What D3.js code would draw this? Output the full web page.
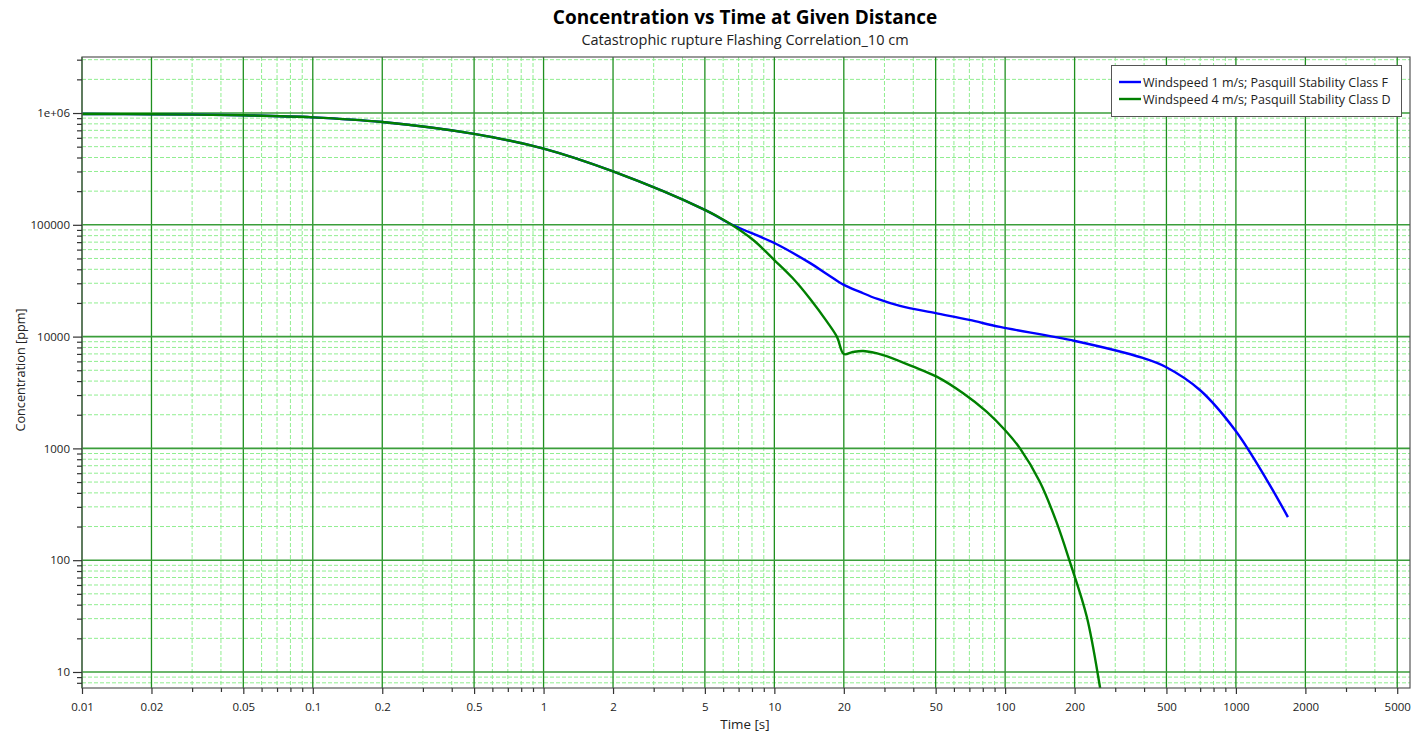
<!DOCTYPE html>
<html>
<head>
<meta charset="utf-8">
<script src="https://cdn.jsdelivr.net/npm/d3@7"></script>
<style>
  html, body { margin: 0; padding: 0; background: #ffffff; }
  svg { display: block; font-family: "Open Sans", "Noto Sans", sans-serif; }
</style>
</head>
<body>
<svg id="chart" width="1421" height="736"></svg>
<script>
// Time [s] and concentration [ppm] samples for each weather case
const timeF = [0.01, 0.02, 0.05, 0.1, 0.2, 0.5, 1, 2, 5, 6.6, 10, 14.3, 17, 20, 23.5, 28, 35, 50, 70, 95, 201, 395, 497, 698, 991, 1362, 1680];
const concF = [980000, 975000, 955000, 915000, 830000, 650000, 480000, 300000, 136000, 99600, 68700, 45400, 36000, 29000, 25100, 21700, 18800, 16200, 14100, 12200, 9140, 6440, 5350, 3330, 1460, 521, 243];

const timeD = [0.01, 0.02, 0.05, 0.1, 0.2, 0.5, 1, 2, 5, 6.2, 8.1, 10, 12, 14.3, 16.9, 18.7, 20, 21.9, 24.3, 29.6, 40, 50.5, 65.8, 83.1, 99.8, 116, 141.5, 167, 191, 226, 258, 270];
const concD = [980000, 975000, 955000, 915000, 830000, 650000, 480000, 300000, 136000, 107000, 73100, 48400, 33400, 21700, 13600, 9900, 6980, 7280, 7430, 6840, 5380, 4380, 3110, 2130, 1460, 1000, 500, 219, 96, 31, 7.2, 4];

const seriesNames = [
  "Windspeed 1 m/s; Pasquill Stability Class F",
  "Windspeed 4 m/s; Pasquill Stability Class D"
];
const seriesColors = ["#0000ff", "#008000"];

const xTickLabels = [0.01, 0.02, 0.05, 0.1, 0.2, 0.5, 1, 2, 5, 10, 20, 50, 100, 200, 500, 1000, 2000, 5000];
const yTickLabels = ["1e+06", "100000", "10000", "1000", "100", "10"];
const yTickValues = [1e6, 1e5, 1e4, 1e3, 100, 10];

const titleText = "Concentration vs Time at Given Distance";
const subtitleText = "Catastrophic rupture Flashing Correlation_10 cm";
const xLabel = "Time [s]";
const yLabel = "Concentration [ppm]";

const svg = d3.select("#chart");
const plotLeft = 82, plotRight = 1410, plotTop = 57, plotBottom = 688;

const x = d3.scaleLog().domain([0.01, 5680]).range([plotLeft, plotRight]);
const y = d3.scaleLog().domain([7.19, 3.17e6]).range([plotBottom, plotTop]);

// minor values: every integer multiple of each decade within the domain
function minorValues(scale, mults) {
  const [d0, d1] = scale.domain();
  const out = [];
  for (let e = Math.floor(Math.log10(d0)); e <= Math.ceil(Math.log10(d1)); e++) {
    for (const m of mults) {
      const v = m * Math.pow(10, e);
      if (v >= d0 * 0.9999 && v <= d1 * 1.0001) out.push(v);
    }
  }
  return out;
}
const xMinor = minorValues(x, [3, 4, 6, 7, 8, 9]);
const yMinor = minorValues(y, [2, 3, 4, 5, 6, 7, 8, 9]);

const grid = svg.append("g");
// dashed light grid
grid.selectAll("line.xm").data(xMinor).enter().append("line")
  .attr("x1", d => x(d)).attr("x2", d => x(d)).attr("y1", plotTop).attr("y2", plotBottom)
  .attr("stroke", "#90ee90").attr("stroke-width", 1).attr("stroke-dasharray", "4,2");
grid.selectAll("line.ym").data(yMinor).enter().append("line")
  .attr("y1", d => y(d)).attr("y2", d => y(d)).attr("x1", plotLeft).attr("x2", plotRight)
  .attr("stroke", "#90ee90").attr("stroke-width", 1).attr("stroke-dasharray", "4,2");
// solid major grid
grid.selectAll("line.xM").data(xTickLabels).enter().append("line")
  .attr("x1", d => x(d)).attr("x2", d => x(d)).attr("y1", plotTop).attr("y2", plotBottom)
  .attr("stroke", "#1f8f1f").attr("stroke-width", 1.3);
grid.selectAll("line.yM").data(yTickValues).enter().append("line")
  .attr("y1", d => y(d)).attr("y2", d => y(d)).attr("x1", plotLeft).attr("x2", plotRight)
  .attr("stroke", "#3a9e3a").attr("stroke-width", 1.6);

// series
svg.append("clipPath").attr("id", "plotclip")
  .append("rect").attr("x", plotLeft).attr("y", plotTop)
  .attr("width", plotRight - plotLeft).attr("height", plotBottom - plotTop);
const line = d3.line().x(d => x(d[0])).y(d => y(d[1])).curve(d3.curveCatmullRom.alpha(0.5));
const series = [
  d3.zip(timeF, concF),
  d3.zip(timeD, concD)
];
const plot = svg.append("g").attr("clip-path", "url(#plotclip)");
// class D drawn after F so it sits on top in the shared early segment
[0, 1].forEach(i => {
  plot.append("path").datum(series[i])
    .attr("d", line).attr("fill", "none")
    .attr("stroke", seriesColors[i]).attr("stroke-width", 2.4)
    .attr("stroke-linejoin", "round");
});

// frame
svg.append("rect").attr("x", plotLeft).attr("y", plotTop)
  .attr("width", plotRight - plotLeft).attr("height", plotBottom - plotTop)
  .attr("fill", "none").attr("stroke", "#555").attr("stroke-width", 1.2);

// axes
const fmtX = d => String(d);
const xAxis = d3.axisBottom(x).tickValues(xTickLabels).tickFormat(fmtX).tickSize(6).tickPadding(9);
const gx = svg.append("g").attr("transform", `translate(0,${plotBottom})`).call(xAxis);
const xAxisMinor = d3.axisBottom(x).tickValues(xMinor).tickFormat("").tickSize(4);
const gxm = svg.append("g").attr("transform", `translate(0,${plotBottom})`).call(xAxisMinor);

const yAxis = d3.axisLeft(y).tickValues(yTickValues).tickFormat((d, i) => yTickLabels[i]).tickSize(9).tickPadding(3);
const gy = svg.append("g").attr("transform", `translate(${plotLeft},0)`).call(yAxis);
const yAxisMinor = d3.axisLeft(y).tickValues(yMinor).tickFormat("").tickSize(5);
const gym = svg.append("g").attr("transform", `translate(${plotLeft},0)`).call(yAxisMinor);

[gx, gxm, gy, gym].forEach(g => {
  g.select(".domain").remove();
  g.selectAll(".tick line").attr("stroke", "#333").attr("stroke-width", 1.2);
  g.selectAll("text").attr("fill", "#222").style("font-size", "11.5px")
    .style("font-family", "'Open Sans', 'Noto Sans', sans-serif");
});

// titles
svg.append("text").attr("x", 745).attr("y", 24).attr("text-anchor", "middle")
  .style("font-size", "19px").style("font-weight", "bold").attr("fill", "#000").text(titleText);
svg.append("text").attr("x", 745).attr("y", 45).attr("text-anchor", "middle")
  .style("font-size", "14.5px").attr("fill", "#222").text(subtitleText);
svg.append("text").attr("x", 745).attr("y", 729).attr("text-anchor", "middle")
  .style("font-size", "13.4px").attr("fill", "#222").text(xLabel);
svg.append("text").attr("transform", "translate(25,370) rotate(-90)").attr("text-anchor", "middle")
  .style("font-size", "12.7px").attr("fill", "#222").text(yLabel);

// legend
const lg = svg.append("g");
lg.append("rect").attr("x", 1111.5).attr("y", 65.5).attr("width", 290).attr("height", 51)
  .attr("fill", "#fff").attr("stroke", "#555").attr("stroke-width", 1);
seriesNames.forEach((name, i) => {
  const yy = 82 + i * 17;
  lg.append("line").attr("x1", 1119).attr("x2", 1141).attr("y1", yy).attr("y2", yy)
    .attr("stroke", seriesColors[i]).attr("stroke-width", 2.4);
  lg.append("text").attr("x", 1143).attr("y", yy + 4.5)
    .style("font-size", "12.5px").attr("fill", "#222").text(name);
});
</script>
</body>
</html>
